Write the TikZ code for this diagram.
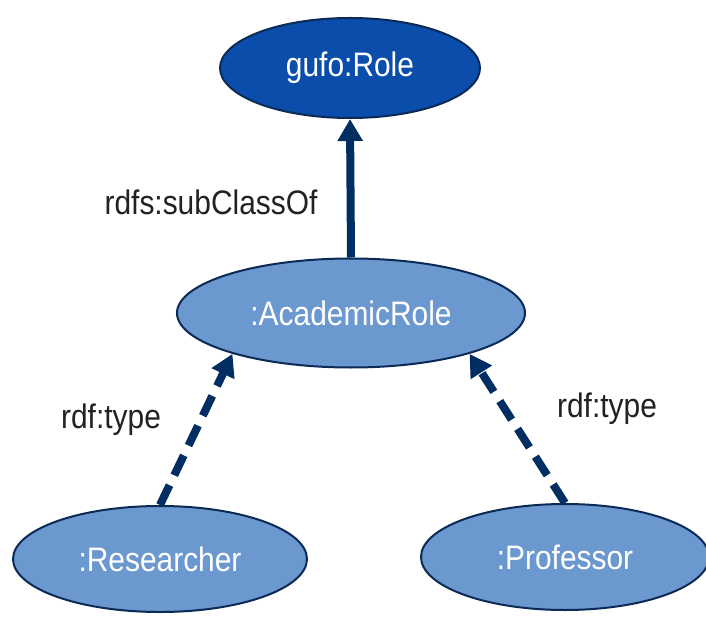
\documentclass[tikz,border=0pt]{standalone}
\usepackage{fontspec}
\setmainfont[FakeStretch=0.88]{Liberation Sans}
\usetikzlibrary{shapes.geometric,arrows.meta}

\definecolor{roleblue}{HTML}{0A4DAA}
\definecolor{classblue}{HTML}{6A98CF}
\definecolor{edgeblue}{HTML}{0B2A55}
\definecolor{arrowblue}{HTML}{002D62}
\definecolor{labelgray}{HTML}{222222}

\begin{document}
\begin{tikzpicture}[x=1pt,y=-1pt,
  classnode/.style={ellipse, draw=edgeblue, line width=2pt, fill=classblue,
    text=white, font=\fontsize{34}{38}\selectfont, inner sep=0pt},
  rolenode/.style={classnode, fill=roleblue},
  edgelabel/.style={text=labelgray, font=\fontsize{34}{38}\selectfont,
    inner sep=0pt, anchor=base},
  subclassarrow/.style={draw=arrowblue, line width=8pt,
    -{Triangle[width=24pt,length=22pt]}},
  typearrow/.style={subclassarrow, dash pattern=on 22pt off 11pt}
]
\useasboundingbox (0,0) rectangle (706,617);

% classes
\node[rolenode, minimum width=260pt, minimum height=100pt] (role) at (350,68) {gufo:Role};
\node[classnode, minimum width=348pt, minimum height=109pt] (acad) at (351,313) {:AcademicRole};
\node[classnode, minimum width=294pt, minimum height=106pt] (res) at (160,559) {:Researcher};
\node[classnode, minimum width=288pt, minimum height=106pt] (prof) at (565,557) {:Professor};

% relations
\draw[subclassarrow] (acad.north) -- (role.south);
\draw[typearrow] (res.north) -- (acad.199);
\draw[typearrow] (prof.north) -- (acad.341);

% relation labels
\node[edgelabel] (lsub) at (211,215) {rdfs:subClassOf};
\node[edgelabel] (ltypea) at (111,428) {rdf:type};
\node[edgelabel] (ltypeb) at (607,417) {rdf:type};
\end{tikzpicture}
\end{document}
